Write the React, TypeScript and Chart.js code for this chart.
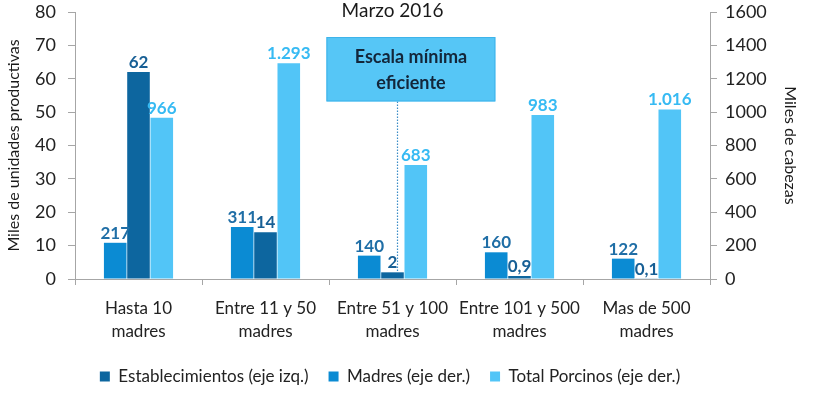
import React, { useEffect, useRef } from "react";
import { Chart, registerables } from "chart.js";
Chart.register(...registerables);

const categories = [
  ["Hasta 10", "madres"],
  ["Entre 11 y 50", "madres"],
  ["Entre 51 y 100", "madres"],
  ["Entre 101 y 500", "madres"],
  ["Mas de 500", "madres"],
];
const establecimientos = [62, 14, 2, 0.9, 0.1];
const madres = [217, 311, 140, 160, 122];
const totalPorcinos = [966, 1293, 683, 983, 1016];

const chartTitle = "Marzo 2016";
const noteLines = ["Escala mínima", "eficiente"];
const noteCategory = 2;

const FONT = "Lato, 'Open Sans', sans-serif";
const labelColors = ["#1f6ea6", "#175f95", "#36baf3"];

function fmt(v: number): string {
  const parts = String(v).split(".");
  const i = parts[0].replace(/\B(?=(\d{3})+(?!\d))/g, ".");
  return parts[1] ? i + "," + parts[1] : i;
}

const dataLabelsPlugin = {
  id: "dataLabels",
  afterDatasetsDraw(chart: any) {
    const ctx = chart.ctx;
    ctx.save();
    ctx.font = `bold 17px ${FONT}`;
    ctx.textAlign = "center";
    ctx.textBaseline = "bottom";
    chart.data.datasets.forEach((ds: any, i: number) => {
      const meta = chart.getDatasetMeta(i);
      meta.data.forEach((bar: any, j: number) => {
        ctx.fillStyle = labelColors[i];
        ctx.fillText(fmt(ds.data[j]), bar.x, bar.y - 1);
      });
    });
    ctx.restore();
  },
};

const notePlugin = {
  id: "note",
  afterDraw(chart: any) {
    const ctx = chart.ctx;
    const xs = chart.scales.x;
    const ys = chart.scales.y;
    const cw = (chart.chartArea.right - chart.chartArea.left) / categories.length;
    const cx = xs.getPixelForValue(noteCategory);
    const left = cx - 0.52 * cw;
    const right = cx + 0.81 * cw;
    const top = ys.getPixelForValue(72.5);
    const bottom = ys.getPixelForValue(53.2);
    const bar = chart.getDatasetMeta(1).data[noteCategory];
    ctx.save();
    ctx.strokeStyle = "#3a8cc6";
    ctx.lineWidth = 1.2;
    ctx.setLineDash([1.5, 1.5]);
    ctx.beginPath();
    ctx.moveTo(bar.x + 5, bottom);
    ctx.lineTo(bar.x + 5, bar.y);
    ctx.stroke();
    ctx.setLineDash([]);
    ctx.fillStyle = "#56c6f6";
    ctx.fillRect(left, top, right - left, bottom - top);
    ctx.strokeStyle = "#3eb3ea";
    ctx.lineWidth = 1;
    ctx.strokeRect(left + 0.5, top + 0.5, right - left - 1, bottom - top - 1);
    ctx.fillStyle = "#13263a";
    ctx.font = `bold 18px ${FONT}`;
    ctx.textAlign = "center";
    ctx.textBaseline = "middle";
    const mid = (left + right) / 2;
    const h = bottom - top;
    ctx.fillText(noteLines[0], mid, top + h * 0.31);
    ctx.fillText(noteLines[1], mid, top + h * 0.71);
    ctx.fillStyle = "#1a1a1a";
    ctx.font = `19px ${FONT}`;
    ctx.fillText(chartTitle, (chart.chartArea.left + chart.chartArea.right) / 2, 11);
    ctx.restore();
  },
};

const legendOrder = [1, 0, 2];

export default function App() {
  const ref = useRef<HTMLCanvasElement>(null);
  useEffect(() => {
    if (!ref.current) return;
    const axisColor = "#a6a6a6";
    const tickFont = { family: FONT, size: 18 };
    const chart = new Chart(ref.current, {
      type: "bar",
      data: {
        labels: categories,
        datasets: [
          { label: "Madres (eje der.)", data: madres, yAxisID: "y1", backgroundColor: "#0b8bd3" },
          { label: "Establecimientos (eje izq.)", data: establecimientos, yAxisID: "y", backgroundColor: "#0d669f" },
          { label: "Total Porcinos (eje der.)", data: totalPorcinos, yAxisID: "y1", backgroundColor: "#52c5f7" },
        ],
      },
      options: {
        responsive: false,
        animation: false,
        layout: { padding: { top: 12, left: 0, right: 40, bottom: 0 } },
        datasets: { bar: { categoryPercentage: 0.55, barPercentage: 0.97 } },
        plugins: {
          title: { display: false },
          tooltip: { enabled: false },
          legend: {
            position: "bottom",
            labels: {
              sort: (a: any, b: any) => legendOrder.indexOf(a.datasetIndex) - legendOrder.indexOf(b.datasetIndex),
              boxWidth: 10,
              boxHeight: 10,
              padding: 20,
              color: "#222",
              font: { family: FONT, size: 17 },
            },
          },
        },
        scales: {
          x: {
            grid: { drawOnChartArea: false, drawTicks: true, tickLength: 6, color: axisColor, offset: true },
            border: { display: true, color: axisColor },
            ticks: { color: "#222", font: { family: FONT, size: 17, lineHeight: 1.35 }, padding: 12, maxRotation: 0, autoSkip: false },
            afterFit(scale: any) {
              const lh = scale.chart.legend ? scale.chart.legend.height : 0;
              scale.height = 116 - lh;
            },
          },
          y: {
            position: "left",
            min: 0,
            max: 80,
            ticks: { stepSize: 10, color: "#222", font: tickFont, padding: 12 },
            grid: { drawOnChartArea: false, drawTicks: true, tickLength: 7, color: axisColor },
            border: { display: true, color: axisColor },
            title: {
              display: true,
              text: "Miles de unidades productivas",
              color: "#1a1a1a",
              font: { family: FONT, size: 16 },
              padding: { top: 4, bottom: 0 },
            },
            afterFit(scale: any) {
              scale.width = 75;
              scale.paddingTop = 0;
              scale.paddingBottom = 0;
            },
          },
          y1: {
            position: "right",
            min: 0,
            max: 1600,
            ticks: { stepSize: 200, color: "#222", font: tickFont, padding: 8, callback: (v: any) => String(v) },
            grid: { drawOnChartArea: false, drawTicks: true, tickLength: 7, color: axisColor },
            border: { display: true, color: axisColor },
            title: {
              display: true,
              text: "Miles de cabezas",
              color: "#1a1a1a",
              font: { family: FONT, size: 16 },
              padding: { top: -20, bottom: 0 },
            },
            afterFit(scale: any) {
              scale.width = 70;
              scale.paddingTop = 0;
              scale.paddingBottom = 0;
            },
          },
        },
      },
      plugins: [dataLabelsPlugin, notePlugin],
    } as any);
    return () => chart.destroy();
  }, []);
  return (
    <div style={{ position: "absolute", left: 0, top: 0, width: 820, height: 395, background: "#fff" }}>
      <canvas ref={ref} width={820} height={395} />
    </div>
  );
}
